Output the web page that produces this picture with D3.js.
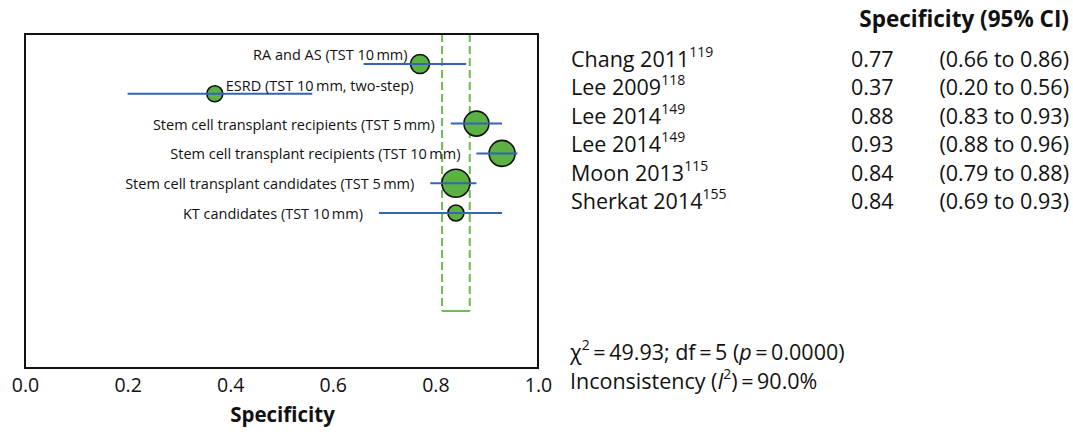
<!DOCTYPE html>
<html>
<head>
<meta charset="utf-8">
<script src="https://cdn.jsdelivr.net/npm/d3@7"></script>
<style>
  body { margin: 0; background: #fff; }
  svg text { font-family: "Open Sans", "Noto Sans", sans-serif; fill: #111; }
</style>
</head>
<body>
<div id="chart"></div>
<script>
// study rows, top to bottom
const subgroups = [
  "RA and AS (TST 10\u2009mm)",
  "ESRD (TST 10\u2009mm, two-step)",
  "Stem cell transplant recipients (TST 5\u2009mm)",
  "Stem cell transplant recipients (TST 10\u2009mm)",
  "Stem cell transplant candidates (TST 5\u2009mm)",
  "KT candidates (TST 10\u2009mm)"
];
const studies = ["Chang 2011", "Lee 2009", "Lee 2014", "Lee 2014", "Moon 2013", "Sherkat 2014"];
const refs = ["119", "118", "149", "149", "115", "155"];
const specificity = [0.77, 0.37, 0.88, 0.93, 0.84, 0.84];
const ciLow = [0.66, 0.20, 0.83, 0.88, 0.79, 0.69];
const ciHigh = [0.86, 0.56, 0.93, 0.96, 0.88, 0.93];
// relative study weight (marker area)
const weights = [90, 64, 156, 169, 196, 64];
// pooled estimate band
const pooledCI = [0.813, 0.867];
const xTicks = [0.0, 0.2, 0.4, 0.6, 0.8, 1.0];

const W = 1073, H = 432;
const svg = d3.select("#chart").append("svg")
  .attr("width", W).attr("height", H);

// plot frame
const box = {left: 25, right: 538, top: 34, bottom: 368};

const x = d3.scaleLinear().domain([0, 1]).range([box.left, box.right]);
// row positions by index
const y = d3.scaleLinear().domain([0, 1]).range([64, 93.8]);
const r = d3.scaleSqrt().domain([0, 196]).range([0, 14]);

const rows = specificity.map((v, i) => ({
  i: i, label: subgroups[i], est: v, lo: ciLow[i], hi: ciHigh[i], w: weights[i]
}));

// pooled dashed band
const band = svg.append("g");
const bandBottom = y(8.29);
band.selectAll("line.dash")
  .data(pooledCI)
  .enter().append("line")
    .attr("x1", d => x(d)).attr("x2", d => x(d))
    .attr("y1", box.top).attr("y2", bandBottom)
    .attr("stroke", "#6cbd4c").attr("stroke-width", 2)
    .attr("stroke-dasharray", "8,4");
band.append("line")
  .attr("x1", x(pooledCI[0])).attr("x2", x(pooledCI[1]))
  .attr("y1", bandBottom).attr("y2", bandBottom)
  .attr("stroke", "#6cbd4c").attr("stroke-width", 2);

// markers
svg.append("g").selectAll("circle")
  .data(rows)
  .enter().append("circle")
    .attr("cx", d => x(d.est))
    .attr("cy", d => y(d.i))
    .attr("r", d => r(d.w))
    .attr("fill", "#5cb144")
    .attr("stroke", "#111")
    .attr("stroke-width", 1.6);

// confidence intervals (drawn over the markers)
svg.append("g").selectAll("line")
  .data(rows)
  .enter().append("line")
    .attr("x1", d => x(d.lo)).attr("x2", d => x(d.hi))
    .attr("y1", d => y(d.i)).attr("y2", d => y(d.i))
    .attr("stroke", "#3563b5").attr("stroke-width", 2);

// subgroup labels
svg.append("g").selectAll("text")
  .data(rows)
  .enter().append("text")
    .attr("font-size", 14.5)
    .attr("text-anchor", d => d.i === 1 ? "start" : "end")
    .attr("x", d => {
      if (d.i === 0) return x(d.est) - r(d.w) - 3;
      if (d.i === 1) return x(d.est) + r(d.w) + 3;
      return x(d.lo) - 16;
    })
    .attr("y", d => d.i === 0 ? y(d.i) - 4 : d.i === 1 ? y(d.i) - 3 : y(d.i) + 6)
    .text(d => d.label);

// frame
svg.append("rect")
  .attr("x", box.left).attr("y", box.top)
  .attr("width", box.right - box.left).attr("height", box.bottom - box.top)
  .attr("fill", "none").attr("stroke", "#111").attr("stroke-width", 2);

// x axis labels
const xAxis = svg.append("g")
  .attr("transform", "translate(0," + box.bottom + ")")
  .call(d3.axisBottom(x).tickValues(xTicks).tickFormat(d3.format(".1f")).tickSize(0).tickPadding(10));
xAxis.select(".domain").remove();
xAxis.selectAll("text")
  .attr("font-size", 19.5)
  .attr("fill", "#111")
  .style("font-family", "'Open Sans', sans-serif");

svg.append("text")
  .attr("x", (box.left + box.right) / 2 + 1)
  .attr("y", 422)
  .attr("text-anchor", "middle")
  .attr("font-size", 20.5)
  .attr("font-weight", "bold")
  .text("Specificity");

// right-hand table
const table = svg.append("g");
const rowY = d3.scaleLinear().domain([0, 1]).range([67, 95.4]);
const fs = 21.5;

table.append("text")
  .attr("x", 1069).attr("y", 27)
  .attr("text-anchor", "end")
  .attr("font-size", 22.5)
  .attr("font-weight", "bold")
  .text("Specificity (95% CI)");

const study = table.selectAll("text.study")
  .data(rows)
  .enter().append("text")
    .attr("class", "study")
    .attr("x", 571)
    .attr("y", d => rowY(d.i))
    .attr("font-size", fs);
study.append("tspan").text(d => studies[d.i]);
study.append("tspan")
  .attr("font-size", 14).attr("dy", -10)
  .text(d => refs[d.i]);

table.selectAll("text.est")
  .data(rows)
  .enter().append("text")
    .attr("x", 851)
    .attr("y", d => rowY(d.i))
    .attr("font-size", fs)
    .text(d => d.est.toFixed(2));

table.selectAll("text.ci")
  .data(rows)
  .enter().append("text")
    .attr("x", 1069)
    .attr("y", d => rowY(d.i))
    .attr("text-anchor", "end")
    .attr("font-size", fs)
    .text(d => "(" + d.lo.toFixed(2) + " to " + d.hi.toFixed(2) + ")");

// heterogeneity statistics
const chi = table.append("text")
  .attr("x", 570).attr("y", 360)
  .attr("font-size", fs);
chi.append("tspan").text("\u03c7");
chi.append("tspan").attr("font-size", 14).attr("dy", -10).text("2");
chi.append("tspan").attr("dy", 10).text("\u2009=\u200949.93; df\u2009=\u20095 (");
chi.append("tspan").attr("font-style", "italic").text("p");
chi.append("tspan").text("\u2009=\u20090.0000)");

const inc = table.append("text")
  .attr("x", 570).attr("y", 389)
  .attr("font-size", fs);
inc.append("tspan").text("Inconsistency (");
inc.append("tspan").attr("font-style", "italic").text("I");
inc.append("tspan").attr("font-size", 14).attr("dy", -10).text("2");
inc.append("tspan").attr("dy", 10).text(")\u2009=\u200990.0%");
</script>
</body>
</html>
